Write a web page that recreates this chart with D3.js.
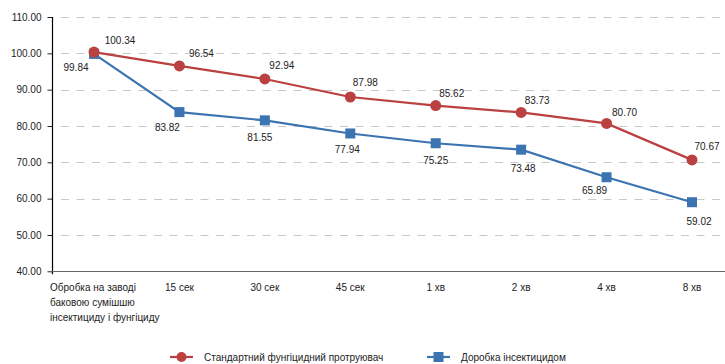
<!DOCTYPE html>
<html>
<head>
<meta charset="utf-8">
<script src="https://cdn.jsdelivr.net/npm/d3@7"></script>
<style>
  body { margin: 0; background: #fff; }
  svg { font-family: "Liberation Sans", Arial, sans-serif; }
</style>
</head>
<body>
<script>
// DATA
const categories = ['Обробка на заводі баковою сумішшю інсектициду і фунгіциду',
  '15 сек', '30 сек', '45 сек', '1 хв', '2 хв', '4 хв', '8 хв']
const firstLabelLines = ['Обробка на заводі', 'баковою сумішшю', 'інсектициду і фунгіциду']
const standard = [100.34, 96.54, 92.94, 87.98, 85.62, 83.73, 80.70, 70.67]
const insecticide = [99.84, 83.82, 81.55, 77.94, 75.25, 73.48, 65.89, 59.02]
const seriesNames = ['Стандартний фунгіцидний протруювач', 'Доробка інсектицидом']
const yTicks = [40, 50, 60, 70, 80, 90, 100, 110]

// label nudges (px) so they sit like in the original
const redOff = [[26, -12], [22, -12], [17, -13], [15, -14], [16, -12], [16, -12], [18, -11], [15, -13]]
const blueOff = [[-18, 14], [-12, 15], [-5, 17], [-3, 16], [0, 17], [2, 19], [-12, 13], [7, 19]]

// COLORS
const red = '#bb4040'
const blue = '#3b74b1'
const ink = '#222'

const W = 725, H = 364

var x = d3.scalePoint()
    .domain(categories)
    .range([94, 692])

var y = d3.scaleLinear()
    .domain([40, 110])
    .range([271.3, 17])

var svg = d3.select('body').append('svg')
    .attr('width', W)
    .attr('height', H)

// grid
svg.append('g').selectAll('line')
  .data(yTicks.filter(d => d > 40))
  .enter().append('line')
    .attr('x1', 61).attr('x2', W)
    .attr('y1', d => Math.round(y(d)) + 0.5)
    .attr('y2', d => Math.round(y(d)) + 0.5)
    .attr('stroke', '#c8c8c8')
    .attr('stroke-width', 1)
    .attr('stroke-dasharray', '8,7.5')

// y axis
let yAxis = svg.append('g')
    .attr('transform', 'translate(52.5,0)')
    .call(d3.axisLeft(y).tickValues(yTicks).tickSize(5).tickPadding(6).tickFormat(d3.format('.2f')))
yAxis.select('.domain').remove()
yAxis.selectAll('.tick line').attr('stroke', ink)
yAxis.selectAll('text').attr('fill', ink).style('font-size', '10px')
yAxis.append('line')
    .attr('y1', y(110)).attr('y2', y(40) + 3)
    .attr('stroke', '#000').attr('stroke-width', 1.2)

// x axis
let xAxis = svg.append('g')
    .attr('transform', `translate(0,${Math.round(y(40)) + 0.5})`)
xAxis.append('line')
    .attr('x1', 52).attr('x2', W)
    .attr('stroke', '#666').attr('stroke-width', 1.2)

xAxis.selectAll('text.cat')
  .data(categories.slice(1))
  .enter().append('text')
    .attr('class', 'cat')
    .attr('x', d => x(d))
    .attr('y', 19)
    .attr('text-anchor', 'middle')
    .attr('fill', ink)
    .style('font-size', '10px')
    .text(d => d)

xAxis.append('text')
    .attr('x', 50)
    .attr('y', 19)
    .attr('fill', ink)
    .style('font-size', '10px')
  .selectAll('tspan')
  .data(firstLabelLines)
  .enter().append('tspan')
    .attr('x', 50)
    .attr('dy', (d, i) => i ? 15 : 0)
    .text(d => d)

// lines + markers (blue first so red sits on top)
var line = d3.line()
    .x((d, i) => x(categories[i]))
    .y(d => y(d))

svg.append('path')
    .datum(insecticide)
    .attr('d', line)
    .attr('fill', 'none')
    .attr('stroke', blue)
    .attr('stroke-width', 2.2)

svg.append('g').selectAll('rect')
  .data(insecticide)
  .enter().append('rect')
    .attr('x', (d, i) => x(categories[i]) - 5)
    .attr('y', d => y(d) - 5)
    .attr('width', 10).attr('height', 10)
    .attr('fill', blue)

svg.append('path')
    .datum(standard)
    .attr('d', line)
    .attr('fill', 'none')
    .attr('stroke', red)
    .attr('stroke-width', 2.2)

svg.append('g').selectAll('circle')
  .data(standard)
  .enter().append('circle')
    .attr('cx', (d, i) => x(categories[i]))
    .attr('cy', d => y(d))
    .attr('r', 5.5)
    .attr('fill', red)

// value labels
svg.append('g').selectAll('text')
  .data(standard)
  .enter().append('text')
    .attr('x', (d, i) => x(categories[i]) + redOff[i][0])
    .attr('y', (d, i) => y(d) + redOff[i][1])
    .attr('dy', '0.35em')
    .attr('text-anchor', 'middle')
    .attr('fill', ink)
    .style('font-size', '10px')
    .text(d => d.toFixed(2))

svg.append('g').selectAll('text')
  .data(insecticide)
  .enter().append('text')
    .attr('x', (d, i) => x(categories[i]) + blueOff[i][0])
    .attr('y', (d, i) => y(d) + blueOff[i][1])
    .attr('dy', '0.35em')
    .attr('text-anchor', 'middle')
    .attr('fill', ink)
    .style('font-size', '10px')
    .text(d => d.toFixed(2))

// legend
let legend = svg.append('g').attr('transform', 'translate(0,357)')
let items = [
  {name: seriesNames[0], color: red, x: 170, shape: 'circle'},
  {name: seriesNames[1], color: blue, x: 427, shape: 'rect'}
]
items.forEach(function(it) {
  let g = legend.append('g').attr('transform', `translate(${it.x},0)`)
  g.append('line').attr('x1', 0).attr('x2', 23)
      .attr('stroke', it.color).attr('stroke-width', 2.2)
  if (it.shape === 'circle') {
    g.append('circle').attr('cx', 11.5).attr('r', 5).attr('fill', it.color)
  } else {
    g.append('rect').attr('x', 6.5).attr('y', -5).attr('width', 10).attr('height', 10).attr('fill', it.color)
  }
  g.append('text').attr('x', 34).attr('dy', '0.35em')
      .attr('fill', ink).style('font-size', '10px')
      .text(it.name)
})
</script>
</body>
</html>
